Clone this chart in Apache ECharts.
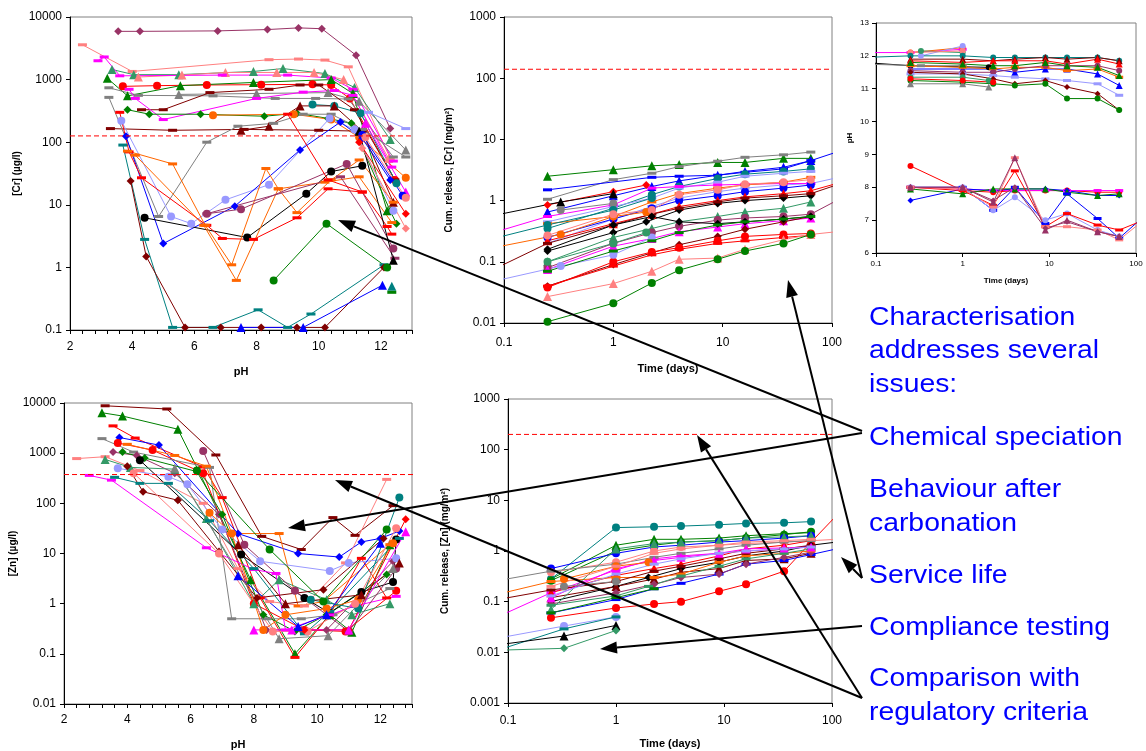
<!DOCTYPE html>
<html>
<head>
<meta charset="utf-8">
<script src="https://cdn.jsdelivr.net/npm/echarts@6/dist/echarts.min.js"></script>
<style>
html, body { margin: 0; background: #fff; }
#main { width: 1146px; height: 751px; }
</style>
</head>
<body>
<div id="main"></div>
<script>
// ---- data ----------------------------------------------------------------
// [Cr] (ug/l) against pH
var crPh = [
    [[3.55,5900],[4.25,5900],[6.75,6000],[8.35,6300],[9.35,6700],[10.1,6500],[11.2,2450],[12.3,165]],
    [[2.4,3600],[4.0,1350],[8.4,2080],[9.35,2130],[10.2,2050],[10.95,1600],[12.3,55]],
    [[3.35,1450],[4.05,1200],[5.5,1200],[7.9,1350],[8.85,1500],[10.2,1250],[11.15,750],[12.3,110]],
    [[4.2,1100],[5.6,1180],[7.0,1300],[8.65,1300],[9.85,1300],[10.8,1000],[12.25,55]],
    [[2.9,2000],[3.1,2300],[3.6,1150],[6.9,1180],[9.0,1180],[10.4,1060],[11.1,700],[12.4,50]],
    [[3.7,780],[4.8,800],[6.4,820],[8.15,830],[9.8,840],[10.4,820],[11.0,500],[12.45,25]],
    [[3.2,1050],[3.85,550],[5.55,800],[7.9,900],[10.4,1000],[11.1,600],[12.2,8]],
    [[3.25,740],[4.2,560],[6.6,550],[8.6,500],[9.9,500],[10.95,490],[12.4,58]],
    [[5.5,580],[8.0,600],[10.3,620],[11.3,450],[12.8,75]],
    [[4.3,330],[5.0,330],[6.5,620],[8.4,700],[9.4,820],[10.0,820],[11.15,330],[12.45,25]],
    [[3.9,700],[4.1,500],[5.0,230],[8.0,500],[9.5,630],[10.5,670],[11.1,560],[12.35,40]],
    [[3.85,330],[4.55,280],[6.2,280],[8.25,260],[9.3,290],[10.3,240],[11.05,200],[12.3,8],[12.5,5]],
    [[6.6,270],[9.2,280],[10.4,230],[11.3,120],[12.8,27]],
    [[9.8,400],[10.5,380],[11.35,290],[12.5,22]],
    [[3.3,165],[5.3,155],[7.6,160],[10.0,155],[11.4,150]],
    [[7.5,155],[8.4,180],[9.4,380],[10.5,380],[11.4,150],[12.4,11]],
    [[3.25,520],[4.85,6.5],[6.4,100],[7.4,180],[8.55,200],[9.5,280],[10.4,280],[11.4,160],[12.8,58]],
    [[3.65,220],[5.25,6.5],[5.9,5],[7.0,12],[8.4,21],[10.35,240],[11.15,160],[12.4,8]],
    [[3.8,125],[5.0,2.4],[7.3,9.5],[9.4,75],[10.7,210],[11.4,115],[12.3,25]],
    [[3.7,90],[4.4,2.8],[5.3,0.11],[6.6,0.11],[8.05,0.21],[9.0,0.11],[9.75,0.18],[12.1,1.1]],
    [[3.95,24],[4.45,1.5],[5.7,0.11],[6.85,0.11],[8.15,0.11],[9.3,0.11],[10.2,0.11],[12.1,1.0]],
    [[7.5,0.11],[9.5,0.11],[12.05,0.52]],
    [[4.4,6.2],[7.7,3.0],[9.6,15],[10.4,34],[11.4,42]],
    [[8.55,0.62],[10.25,5],[12.2,1.0]],
    [[3.6,300],[3.9,70],[4.3,27],[6.4,4.7],[6.9,2.9],[7.9,2.8],[9.3,6.2],[10.3,18],[11.4,16],[12.2,4.5],[12.35,3.4]],
    [[3.85,72],[5.3,45],[6.35,4.7],[7.2,1.1],[8.3,38],[8.7,18],[10.2,23],[11.3,28],[12.35,5.2]],
    [[4.1,62],[6.3,4.7],[7.35,0.62],[8.7,18],[9.3,7.5],[10.4,25],[11.3,52],[12.4,11]],
    [[6.4,7.2],[7.5,8.5],[10.9,45],[12.4,2.0]],
    [[6.4,7.2],[10.7,28],[12.45,1.4]],
    [[9.0,280],[10.3,25],[11.4,16]],
    [[11.6,300],[12.8,165]],
    [[11.3,150],[12.4,1.3]],
    [[11.5,200],[12.8,16]],
    [[11.3,100],[12.8,7.2]],
    [[11.4,80],[12.8,4.2]],
    [[11.4,130],[12.7,14]],
    [[11.5,120],[12.8,13]],
    [[12.35,0.5]],
    [[12.35,0.4]]
];
var crPhMarks = ['pl-d','sa-r','sg-t','sa-t','mg-r','r-c','g-t','gy-r','gy-t','m-r','mg-r','g-d','o-c','t-c',
    'm-r','m-t','gy-r','lv-c','b-d','t-r','m-d','b-t','k-c','g-c','r-r','o-r','o-r','pl-c','pl-r','r-r',
    'lv-r','k-t','mg-t','r-d','sa-d','b-c','sa-c','t-t','g-r'];

// Cumulative release [Cr] (mg/m2) against time (days)
var crRelease = [
    [[0.25,2.5],[1,3.2],[2.25,3.7],[4,3.9],[9,4.2],[16,4.2],[36,4.9],[64,4.9]],
    [[0.25,1.05],[1,2.2],[2.25,2.8],[4,3.6],[9,4.4],[16,5.1],[36,5.6],[64,6.2]],
    [[0.25,1.5],[2.25,2.4],[4,2.5],[9,2.6],[16,2.9],[36,3.3],[64,4.5],[110,6.2]],
    [[0.25,0.65],[1,1.2],[2.25,1.7],[4,2.1],[9,2.6],[16,3.0],[36,3.5],[64,4.5]],
    [[0.25,0.35],[1,0.75],[2.25,1.25],[4,1.7],[9,2.3],[16,2.7],[36,3.0],[64,3.3]],
    [[0.25,0.45],[1,0.8],[2.25,1.1],[4,1.6],[9,2.0],[16,2.5],[36,2.8],[64,3.0]],
    [[0.25,0.2],[1,0.5],[2.25,0.8],[4,1.1],[9,1.4],[16,1.6],[36,1.8],[64,1.9],[110,2.35]],
    [[0.08,0.3],[0.25,0.55],[1,0.85],[2.25,1.6],[4,1.7],[9,1.8],[16,1.85],[36,1.9],[64,1.9]],
    [[0.25,0.85],[1,1.4],[2,1.8]],
    [[0.25,0.42],[1,0.55],[2.25,0.95],[4,1.3],[9,1.6],[16,1.8],[36,2.0],[64,2.4]],
    [[0.25,0.25],[1,0.5],[2.25,0.75],[4,1.0],[9,1.2],[16,1.4],[36,1.6],[64,1.8]],
    [[0.25,0.22],[1,0.42],[2.25,0.6],[4,0.8],[9,1.0],[16,1.15],[36,1.3],[64,1.45],[110,1.9]],
    [[0.08,0.57],[0.33,0.95],[1,1.3]],
    [[0.25,0.15],[1,0.3],[2,0.45],[4,0.7],[9,0.9],[16,1.0],[36,1.1],[64,1.2]],
    [[0.08,0.075],[0.25,0.2],[1,0.4],[2.25,0.6],[4,0.75],[9,0.95],[16,1.1],[36,1.2],[64,1.3],[110,1.8]],
    [[0.25,0.1],[1,0.25],[2.25,0.35],[4,0.45],[9,0.55],[16,0.65],[36,0.75],[64,0.95]],
    [[0.25,0.08],[1,0.2],[2.25,0.3],[4,0.38],[9,0.48],[16,0.52],[36,0.55],[64,0.6],[110,1.0]],
    [[0.25,0.075],[1,0.18],[2.25,0.24],[4,0.31],[9,0.37],[16,0.42],[36,0.47],[64,0.52]],
    [[0.25,0.04],[1,0.09],[2.25,0.14],[4,0.19],[9,0.26],[16,0.34],[36,0.45],[64,0.55]],
    [[0.25,0.038],[1,0.1],[2.25,0.145],[4,0.17],[9,0.22],[16,0.26],[36,0.28],[64,0.29]],
    [[0.25,0.04],[1,0.085],[2.25,0.13],[4,0.16],[9,0.2],[16,0.22],[36,0.25],[64,0.27]],
    [[0.25,0.027],[1,0.044],[2.25,0.07],[4,0.11],[9,0.115],[16,0.16],[36,0.23],[64,0.28],[110,0.31]],
    [[0.25,0.0105],[1,0.021],[2.25,0.045],[4,0.073],[9,0.11],[16,0.15],[36,0.2],[64,0.28]],
    [[0.08,0.048],[0.33,0.085],[1,0.13],[2.25,0.25]],
    [[0.33,0.7],[1,0.9]],
    [[0.08,0.24],[0.25,0.4],[1,0.7],[2.25,1.1]],
    [[0.08,0.17],[0.33,0.28],[1,0.55],[2,0.65]],
    [[0.25,0.1],[1,0.2],[2,0.3]],
    [[0.25,0.27],[1,0.6],[2.25,0.7],[4,1.25],[9,1.5],[16,1.85],[36,2.0],[64,2.2]],
    [[0.25,0.16],[1,0.4],[2.25,0.55],[4,0.45],[9,0.42],[16,0.45],[36,0.5],[64,0.55]],
    [[0.25,0.07],[1,0.15],[2.25,0.22],[4,0.3],[9,0.4],[16,0.45],[36,0.5],[64,0.55]]
];
var crReleaseMarks = ['g-t','gy-r','b-r','b-t','t-c','lv-r','lv-r','mg-r','r-d','o-r','b-c','r-t','k-t','k-d',
    'm-r','sg-t','pl-c','mg-t','m-d','r-c','r-r','sa-t','g-c','lv-c','gy-c','t-c','o-c','sg-c','sa-c','k-d','g-r'];

// pH of the leachate against time (days)
var phTime = [
    [[0.07,12.1],[0.25,12.1],[1,12.2]],
    [[0.25,12.1],[1,12.25]],
    [[0.33,12.0],[1,12.3]],
    [[0.33,12.15],[1,12.1]],
    [[0.25,12.1],[1,12.15]],
    [[0.07,11.95],[0.25,12.0],[1,12.0],[2.25,11.95],[4,11.95],[9,11.95],[16,11.95],[36,11.95],[64,11.85]],
    [[0.25,11.9],[1,11.9],[2.25,11.85],[4,11.9],[9,11.95],[16,11.9],[36,11.95],[64,11.85]],
    [[0.25,11.85],[1,11.8],[2.25,11.85],[4,11.85],[9,11.85],[16,11.75],[36,11.9],[64,11.75]],
    [[0.07,11.8],[0.25,11.7],[2,11.65]],
    [[0.07,11.75],[0.33,11.7],[1,11.7]],
    [[0.25,11.6],[1,11.6],[2.25,11.6],[4,11.5],[9,11.6],[16,11.6],[36,11.45],[64,11.1]],
    [[0.25,11.7],[1,11.65],[2.25,11.6],[4,11.65],[9,11.65],[16,11.55],[36,11.6],[64,11.35]],
    [[0.25,11.55],[1,11.5],[2.25,11.5],[4,11.6],[9,11.7],[16,11.7],[36,11.7],[64,11.55]],
    [[0.25,11.45],[1,11.45],[2.25,11.4],[4,11.35],[9,11.3],[16,11.25],[36,11.15],[64,10.8]],
    [[0.25,11.5],[1,11.45],[2.25,11.3],[4,11.15],[9,11.25],[16,11.05],[36,10.85],[64,10.35]],
    [[0.25,11.25],[1,11.2],[2.25,11.15],[4,11.1],[9,11.15],[16,10.7],[36,10.7],[64,10.35]],
    [[0.25,11.35],[1,11.35],[2,11.25]],
    [[0.25,11.15],[1,11.15],[2,11.05]],
    [[0.25,11.3],[1,11.25],[2.25,11.2]],
    [[0.25,11.8],[1,11.75],[2.25,11.7],[4,11.7],[9,11.8],[16,11.7],[36,11.65],[64,11.4]],
    [[0.25,8.65],[1,7.9],[2.25,7.85],[4,7.9],[9,7.9],[16,7.9],[36,7.85],[64,7.85]],
    [[0.25,8.0],[1,7.95],[2.25,7.9],[4,7.9],[9,7.9],[16,7.9],[36,7.9],[64,7.9]],
    [[0.25,7.6],[1,7.95],[2.25,7.9],[4,7.95],[9,7.95],[16,7.9],[36,7.75],[64,7.75]],
    [[0.25,7.95],[1,7.8],[2.25,7.95],[4,7.95],[9,7.95],[16,7.85],[36,7.75],[64,7.8]],
    [[0.25,8.0],[1,8.0],[2.25,7.3],[4,8.0],[9,6.9],[16,7.8],[36,7.05],[64,6.45],[110,7.0]],
    [[0.25,8.0],[1,8.0],[2.25,7.3],[4,7.7],[9,7.0],[16,7.2],[36,6.7],[64,6.5]],
    [[0.25,8.0],[1,7.9],[2.25,7.45],[4,8.5],[9,6.8],[16,7.2],[36,6.85],[64,6.7],[110,6.95]],
    [[0.25,8.0],[1,7.95],[2.25,7.4],[4,8.9],[9,6.8],[16,6.8],[36,6.7],[64,6.4],[110,6.9]],
    [[0.25,8.0],[1,8.0],[2.25,7.55],[4,8.9],[9,6.7],[16,7.0],[36,6.65],[64,6.5]],
    [[0.25,8.0],[1,8.0],[2.25,7.6],[4,8.0],[9,6.75],[16,6.95],[36,6.65],[64,6.5]]
];
var phTimeMarks = ['mg-r','o-c','lv-c','sg-c','sa-c','t-c','m-t','r-t','k-c','gy-r','b-t','o-r','pl-c','lv-r',
    'm-d','g-c','sg-c','gy-t','r-c','g-t','r-c','mg-r','b-d','g-t','b-r','lv-c','r-r','sa-r','pl-t','pl-d'];

// [Zn] (ug/l) against pH
var znPh = [
    [[3.3,8800],[5.25,7600],[6.8,920],[8.25,22],[9.5,12],[10.5,52],[11.2,23],[12.4,90]],
    [[3.2,6400],[3.85,5500],[5.6,3000],[6.25,450],[7.9,3],[9.3,0.1],[10.4,0.6],[11.1,0.27],[12.3,15]],
    [[3.55,3500],[4.25,2000],[6.4,530],[7.0,130],[8.2,1.3],[9.3,0.085],[10.4,0.6],[11.4,8],[12.2,1.3]],
    [[3.75,2050],[5.0,1450],[7.5,25],[9.4,10],[10.7,8.5],[11.4,17],[12.0,20],[12.6,28]],
    [[3.7,1600],[4.8,1150],[6.4,400],[8.0,1.0],[9.6,0.3],[10.9,0.28],[12.5,1.8]],
    [[3.2,1950],[4.2,1050],[6.6,520],[7.3,0.5],[8.4,0.5],[9.5,0.5],[10.5,0.6],[12.3,2]],
    [[4.0,1500],[5.5,900],[6.5,550],[7.3,25],[8.8,25],[9.4,0.9],[10.2,1.1],[12.3,15]],
    [[3.55,1050],[4.3,900],[5.5,400],[6.9,60],[8.4,0.3],[9.5,0.3],[10.3,0.3],[12.4,7]],
    [[3.85,1050],[4.55,800],[6.2,430],[7.0,60],[8.3,0.6],[9.3,0.28],[10.3,0.6],[12.2,3.8]],
    [[4.4,720],[7.6,9.5],[9.6,1.3],[10.4,0.65],[11.4,1.7],[12.4,2.7],[12.5,19]],
    [[2.4,780],[3.3,850],[4.4,450],[6.4,100],[7.5,5],[8.5,1.1],[9.6,0.9],[10.9,6.5],[12.2,300]],
    [[3.3,750],[4.1,520],[5.5,480],[6.5,50],[8.0,1.0],[8.8,3.0],[10.3,1.2],[11.1,0.6],[12.3,1.0]],
    [[2.8,360],[3.5,290],[6.5,13],[8.0,4.8],[8.7,4],[9.0,0.3],[10.4,0.6],[11.2,0.9],[12.5,1.4]],
    [[3.7,500],[5.3,340],[5.9,240],[7.0,30],[8.2,7],[10.4,4.5],[11.0,6.5],[12.5,8]],
    [[4.0,550],[4.5,170],[5.6,115],[6.9,11],[8.1,1.3],[10.2,1.9],[12.1,20]],
    [[3.6,330],[4.4,250],[5.3,250],[6.6,45],[8.0,5],[9.6,0.25],[10.4,0.7],[12.6,20]],
    [[6.6,65],[7.3,25],[8.3,0.3],[9.0,0.6],[10.3,0.8],[11.3,1.2],[12.4,16]],
    [[6.4,1100],[7.7,15],[9.3,1.8],[11.0,0.28],[12.5,5]],
    [[9.8,1.2],[11.3,0.8],[12.6,130]],
    [[6.2,450],[8.5,12],[10.2,1.1],[12.2,30]],
    [[4.2,400],[6.9,10],[8.6,0.28],[9.7,0.28],[11.2,1],[12.5,32]],
    [[9.6,0.3],[11.0,0.3],[12.8,48]],
    [[7.5,3.6],[9.4,0.35],[10.3,0.6],[12.0,16]],
    [[7.5,15],[9.0,1.0],[11.4,1.5],[12.6,6.5]],
    [[5.5,500],[8.8,0.2],[10.35,0.23],[12.4,5]],
    [[8.0,0.3],[9.2,0.3],[11.0,0.3],[12.8,27]]
];
var znPhMarks = ['m-r','g-t','r-r','b-d','r-c','gy-r','o-r','pl-d','g-d','k-c','sa-r','sg-t','mg-r','lv-c',
    'm-d','t-r','o-c','pl-c','t-c','g-c','sa-c','r-d','b-t','m-t','gy-t','mg-t'];

// Cumulative release [Zn] (mg/m2) against time (days)
var znRelease = [
    [[0.25,0.28],[1,2.9],[2.25,3.0],[4,3.1],[9,3.3],[16,3.5],[36,3.6],[64,3.8]],
    [[0.25,0.048],[1,0.075],[2.25,0.09],[4,0.1],[9,0.16],[16,0.22],[36,0.4],[64,1.5],[110,5.0]],
    [[0.25,0.28],[1,1.3],[2.25,1.7],[4,1.7],[9,1.8],[16,2.0],[36,2.2],[64,2.3]],
    [[0.25,0.26],[1,1.0],[2.25,1.3],[4,1.5],[9,1.6],[16,1.8],[36,2.1],[64,2.4]],
    [[0.25,0.45],[1,0.9],[2.25,1.2],[4,1.3],[9,1.5],[16,1.6],[36,1.8],[64,2.0]],
    [[0.25,0.38],[1,0.6],[2.25,1.0],[4,1.2],[9,1.3],[16,1.4],[36,1.5],[64,1.6],[110,1.7]],
    [[0.08,0.05],[0.25,0.15],[1,0.42],[2.25,0.7],[4,0.8],[9,0.9],[16,1.0],[36,1.1],[64,1.2]],
    [[0.25,0.15],[1,0.33],[2.25,0.45],[4,0.55],[9,0.8],[16,1.1],[36,1.3],[64,1.6]],
    [[0.25,0.1],[1,0.2],[2,0.3],[4,0.45],[9,0.6],[16,0.8],[36,1.0],[64,1.3],[110,1.5]],
    [[0.25,0.12],[1,0.2],[2.25,0.28],[4,0.38],[9,0.45],[16,0.65],[36,0.7],[64,0.9]],
    [[0.25,0.06],[1,0.11],[2.25,0.18],[4,0.23],[9,0.35],[16,0.55],[36,0.65],[64,0.85],[110,1.1]],
    [[0.25,0.09],[1,0.15],[2.25,0.22],[4,0.3],[9,0.35],[16,0.55],[36,0.75],[64,0.95]],
    [[0.08,0.14],[0.25,0.25],[1,0.3],[2.25,0.3],[4,0.35],[9,0.6],[16,0.8],[36,0.9],[64,1.0]],
    [[0.08,0.26],[0.25,0.4],[1,0.55],[2.25,0.75],[4,0.9],[9,1.1],[16,1.3],[36,1.5],[64,1.6]],
    [[0.08,0.11],[0.25,0.17],[1,0.25],[2.25,0.4],[4,0.5],[9,0.7],[16,0.9],[36,1.1],[64,1.3]],
    [[0.25,0.085],[1,0.13],[2,0.2],[4,0.32],[9,0.5],[16,0.7],[36,0.9],[64,1.1]],
    [[0.25,0.07],[1,1.1],[2.25,1.4],[4,1.5],[9,1.6],[16,1.8],[36,1.9],[64,2.0]],
    [[0.25,0.12],[1,0.45],[2.25,0.65],[4,0.75],[9,0.9],[16,1.1],[36,1.15],[64,1.2]],
    [[0.08,0.019],[0.33,0.033],[1,0.05]],
    [[0.08,0.011],[0.33,0.029],[1,0.05]],
    [[0.08,0.014],[0.33,0.021],[1,0.034]],
    [[0.08,0.011],[0.33,0.012],[1,0.027]],
    [[0.33,0.2],[1,0.25]],
    [[0.33,0.28],[1,0.5],[2,0.6]],
    [[0.25,0.2],[1,0.5],[2.25,0.9],[4,1.1],[9,1.3],[16,1.5],[36,1.6],[64,1.7]],
    [[0.25,0.13],[1,0.35],[2.25,0.55],[4,0.7],[9,0.9],[16,1.0],[36,1.1],[64,1.2]],
    [[0.25,0.06],[1,0.12],[2.25,0.18]]
];
var znReleaseMarks = ['t-c','r-c','g-t','g-c','b-c','sa-c','mg-r','r-t','k-d','m-t','b-r','pl-d','o-r','gy-r',
    'm-r','sg-r','sg-t','mg-t','lv-c','t-r','k-t','sg-d','gy-c','o-c','sa-r','lv-r','g-r'];

// regulatory limits (red dashed lines): Cr-pH, Cr-release, Zn-pH, Zn-release
var limits = [126, 140, 375, 200];
// x-range each limit line runs over
var limitSpans = [[2, 13.25], [0.1, 100], [2, 13.2], [0.1, 100]];

// ---- styles & layout -----------------------------------------------------
var palette = {
    pl: '#993366', sa: '#FF8080', sg: '#339966', g: '#008000', r: '#FF0000', m: '#800000',
    gy: '#808080', mg: '#FF00FF', t: '#008080', b: '#0000FF', o: '#FF6600', lv: '#9999FF', k: '#000000'
};
var shapes = { d: 'diamond', c: 'circle', t: 'triangle', r: 'rect' };
var font = '"Liberation Sans", Arial, sans-serif';

var grids = [
    { left: 70, top: 17, width: 342, height: 313 },
    { left: 504, top: 17, width: 328, height: 306 },
    { left: 876, top: 23, width: 260, height: 230 },
    { left: 64, top: 403, width: 348, height: 303 },
    { left: 508, top: 399, width: 324, height: 304 }
];

function num(v) { return String(+(+v).toPrecision(6)); }

function baseAxis(gi, name, gap, fs, nfs, margin) {
    return {
        gridIndex: gi, name: name, nameLocation: 'middle', nameGap: gap,
        nameTextStyle: { color: '#000', fontWeight: 'bold', fontSize: nfs, fontFamily: font },
        axisLine: { show: true, onZero: false, lineStyle: { color: '#000', width: 1 } },
        axisTick: { show: true, length: 4, lineStyle: { color: '#000' } },
        axisLabel: { color: '#000', fontSize: fs, fontFamily: font, margin: margin, formatter: num },
        splitLine: { show: false }
    };
}
function logAxis(gi, min, max, name, gap, fs, nfs, margin) {
    var a = baseAxis(gi, name, gap, fs, nfs, margin);
    a.type = 'log'; a.logBase = 10; a.min = min; a.max = max;
    return a;
}
function phAxis(gi, gap, margin) {
    var a = baseAxis(gi, 'pH', gap, 12, 11, margin);
    a.type = 'value'; a.min = 2; a.max = 13; a.interval = 0.4;
    a.axisLabel.formatter = function (v) {
        var r = Math.round(v);
        return (Math.abs(v - r) < 1e-6 && r % 2 === 0 && r <= 12) ? String(r) : '';
    };
    return a;
}

var xAxes = [
    phAxis(0, 36, 11),
    logAxis(1, 0.1, 100, 'Time (days)', 40, 12, 11, 14),
    logAxis(2, 0.1, 100, 'Time (days)', 24, 8, 8, 7),
    phAxis(3, 35, 10),
    logAxis(4, 0.1, 100, 'Time (days)', 35, 12, 11, 12)
];
var y3 = baseAxis(2, 'pH', 22, 8, 8, 7);
y3.type = 'value'; y3.min = 6; y3.max = 13; y3.interval = 1;
var yAxes = [
    logAxis(0, 0.1, 10000, '[Cr] (\u00b5g/l)', 48, 12, 10, 8),
    logAxis(1, 0.01, 1000, 'Cum. release, [Cr] (mg/m\u00b2)', 50, 12, 10, 8),
    y3,
    logAxis(3, 0.01, 10000, '[Zn] (\u00b5g/l)', 42, 12, 10, 8),
    logAxis(4, 0.001, 1000, 'Cum. release, [Zn] (mg/m\u00b2)', 58, 12, 10, 8)
];

function buildSeries(list, marks, gi, small) {
    return list.map(function (pts, i) {
        var parts = marks[i].split('-');
        var col = palette[parts[0]], sym = parts[1];
        var size = sym === 'r' ? [9, 3] : (sym === 't' ? 9 : 8);
        if (small) size = sym === 'r' ? [8, 3] : (sym === 't' ? 7 : 6);
        return {
            type: 'line', xAxisIndex: gi, yAxisIndex: gi, data: pts,
            symbol: shapes[sym], symbolSize: size, showAllSymbol: true,
            lineStyle: { color: col, width: 1 }, itemStyle: { color: col },
            emphasis: { disabled: true }, silent: true, z: 3
        };
    });
}

var series = []
    .concat(buildSeries(crPh, crPhMarks, 0))
    .concat(buildSeries(crRelease, crReleaseMarks, 1))
    .concat(buildSeries(phTime, phTimeMarks, 2, true))
    .concat(buildSeries(znPh, znPhMarks, 3))
    .concat(buildSeries(znRelease, znReleaseMarks, 4));

// dashed limit lines
[0, 1, 3, 4].forEach(function (gi, k) {
    series.push({
        type: 'line', xAxisIndex: gi, yAxisIndex: gi, silent: true, clip: false,
        symbol: 'none', z: 10,
        data: [[limitSpans[k][0], limits[k]], [limitSpans[k][1], limits[k]]],
        lineStyle: { color: '#FF0000', type: [5, 3], width: 1 },
        itemStyle: { color: '#FF0000' }
    });
});

// ---- annotation text & arrows ---------------------------------------------
var notes = [
    ['Characterisation', 327], ['addresses several', 360], ['issues:', 394],
    ['Chemical speciation', 447],
    ['Behaviour after', 499], ['carbonation', 533],
    ['Service life', 585],
    ['Compliance testing', 637],
    ['Comparison with', 688], ['regulatory criteria', 722]
];
var arrows = [
    [862, 431, 338, 220],
    [862, 433, 288, 528],
    [862, 578, 788, 280],
    [862, 578, 841, 557],
    [862, 626, 600, 649],
    [862, 698, 697, 435],
    [862, 698, 335, 480]
];

var graphic = [];
notes.forEach(function (n) {
    graphic.push({
        type: 'text', x: 869, y: n[1] - 9, z: 100, scaleX: 1.09,
        style: { text: n[0], fill: '#0000FF', font: '26px ' + font, verticalAlign: 'middle' }
    });
});
arrows.forEach(function (a) {
    var dx = a[2] - a[0], dy = a[3] - a[1];
    var len = Math.sqrt(dx * dx + dy * dy), ux = dx / len, uy = dy / len;
    var hl = 17, hw = 6;
    var bx = a[2] - ux * hl, by = a[3] - uy * hl;
    graphic.push({
        type: 'line', z: 100,
        shape: { x1: a[0], y1: a[1], x2: bx, y2: by },
        style: { stroke: '#000', lineWidth: 2 }
    });
    graphic.push({
        type: 'polygon', z: 100,
        shape: { points: [[a[2], a[3]], [bx - uy * hw, by + ux * hw], [bx + uy * hw, by - ux * hw]] },
        style: { fill: '#000' }
    });
});

var chart = echarts.init(document.getElementById('main'), null, { renderer: 'canvas' });
chart.setOption({
    animation: false,
    backgroundColor: '#fff',
    grid: grids.map(function (g) {
        return { left: g.left, top: g.top, width: g.width, height: g.height,
                 show: true, borderColor: '#808080', borderWidth: 1, backgroundColor: 'transparent' };
    }),
    xAxis: xAxes,
    yAxis: yAxes,
    series: series,
    graphic: graphic
});
</script>
</body>
</html>
